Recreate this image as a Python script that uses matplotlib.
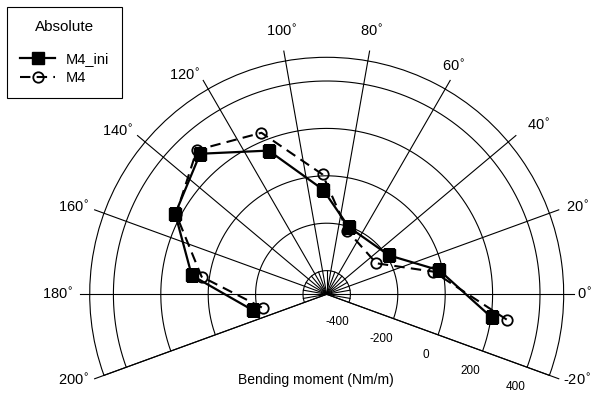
import numpy as np
import matplotlib
matplotlib.use('Agg')
import matplotlib.pyplot as plt

plt.rcParams['font.family'] = ['Liberation Sans', 'DejaVu Sans']

# ---- data ----
theta_deg = [-8, 12, 32, 72, 92, 112, 132, 152, 172, 192]
m4_ini = [203, -14, -190, -201, -58, 154, 298, 224, 75, -180]
m4 = [267, -40, -253, -218, 6, 235, 319, 220, 33, -224]
r_ticks = [-400, -200, 0, 200, 400]
r_tick_labels = ['-400', '-200', '0', '200', '400']
angle_ticks = [-20, 0, 20, 40, 60, 80, 100, 120, 140, 160, 180, 200]
minor_angles = [-10, 10, 30, 50, 70, 90, 110, 130, 150, 170, 190]
r_min, r_max = -500, 500

W, H = 592, 394
fig = plt.figure(figsize=(W / 100, H / 100), dpi=100)
ax = fig.add_axes([0.1515, 0.0472, 0.8007, 0.8071], projection='polar')
ax.set_thetamin(-20)
ax.set_thetamax(200)
ax.set_rlim(r_min, r_max)
ax.grid(False)
ax.set_xticks([])
ax.set_yticks([])
for s in ['start', 'end', 'inner']:
    if s in ax.spines:
        ax.spines[s].set_visible(False)
ax.spines['polar'].set_linewidth(0.8)

grid_kw = dict(color='k', lw=0.8, zorder=1)
# full spokes
for a in angle_ticks:
    ax.plot([np.deg2rad(a)] * 2, [r_min, r_max + 42], clip_on=False, **grid_kw)
# short spokes in the inner circle
for a in minor_angles:
    ax.plot([np.deg2rad(a)] * 2, [r_min, r_ticks[0]], **grid_kw)
# circles
tt = np.deg2rad(np.linspace(-20, 200, 500))
for r in r_ticks:
    ax.plot(tt, np.full_like(tt, r), **grid_kw)

th = np.deg2rad(theta_deg)
l1, = ax.plot(th, m4_ini, color='k', lw=1.6, marker='s', ms=8,
              label='M4_ini', zorder=4)
l2, = ax.plot(th, m4, color='k', lw=1.5, ls=(0, (5, 3)), marker='o', ms=7.5,
              mfc='none', mew=1.3, label='M4', zorder=3)
ax.set_rlim(r_min, r_max)

# ---- place the polar axes so its centre / radius match the reference ----
tc = np.array([326.7, H - 294.3])
tR = 237.0
for _ in range(3):
    fig.canvas.draw()
    c = ax.transData.transform((0, r_min))
    e = ax.transData.transform((0, r_max))
    R = e[0] - c[0]
    l, b, w, h = ax.get_position(original=True).bounds
    k = tR / R
    ax.set_position([l, b, w * k, h * k])
    fig.canvas.draw()
    c = ax.transData.transform((0, r_min))
    l, b, w, h = ax.get_position(original=True).bounds
    ax.set_position([l + (tc[0] - c[0]) / W, b + (tc[1] - c[1]) / H, w, h])

# angular labels
ang_layout = {-20: ('left', 'center', 14), 0: ('left', 'center', 13),
              20: ('left', 'center', 18), 40: ('left', 'center', 25),
              60: ('center', 'bottom', 17), 80: ('center', 'bottom', 22),
              100: ('center', 'bottom', 22), 120: ('right', 'center', 16),
              140: ('right', 'center', 16), 160: ('right', 'center', 16),
              180: ('right', 'center', 16), 200: ('right', 'center', 16)}
for a in angle_ticks:
    ha, va, d = ang_layout[a]
    rad = np.deg2rad(a)
    ax.annotate(f'{a}' + r'$^{\circ}$', xy=(rad, r_max),
                xytext=(d * np.cos(rad), d * np.sin(rad)),
                textcoords='offset pixels', ha=ha, va=va, fontsize=10.5,
                annotation_clip=False)

# radial labels along -20 deg
for r, lab in zip(r_ticks, r_tick_labels):
    ax.annotate(lab, xy=(np.deg2rad(-20), r), xytext=(-12, -20),
                textcoords='offset pixels', ha='center', va='center',
                fontsize=8.5, annotation_clip=False)

fig.text(316 / W, 1 - 380 / H, 'Bending moment (Nm/m)', ha='center',
         va='center', fontsize=10)

leg = fig.legend(handles=[l1, l2], loc='upper left',
                 bbox_to_anchor=(7 / W, 1 - 7 / H), title='Absolute\n',
                 fontsize=10.5, title_fontsize=11, frameon=True, fancybox=False,
                 edgecolor='k', framealpha=1, borderpad=0.9, labelspacing=0.35,
                 handlelength=2.4, handletextpad=0.7, borderaxespad=0,
                 numpoints=1)
leg.get_title().set_linespacing(0.9)
leg.get_frame().set_linewidth(0.8)

fig.savefig('out.png', dpi=100)
